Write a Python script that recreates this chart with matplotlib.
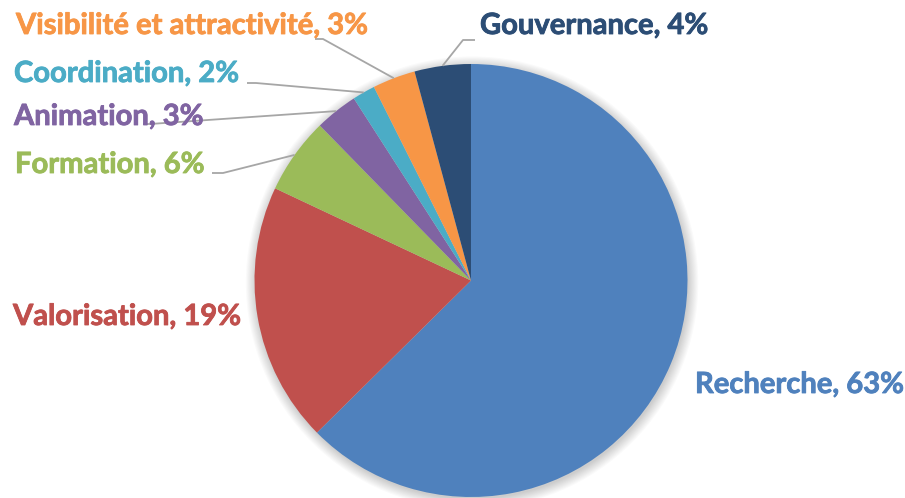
import numpy as np
import matplotlib
matplotlib.use("Agg")
import matplotlib.pyplot as plt
from matplotlib.patches import Circle
import matplotlib.patheffects as pe

# ---- data ----
categories = ["Recherche", "Valorisation", "Formation", "Animation",
              "Coordination", "Visibilité et attractivité", "Gouvernance"]
values = [62.6, 19.4, 5.7, 3.2, 1.7, 3.2, 4.2]
colors = ["#4F81BD", "#C0504D", "#9BBB59", "#8064A2",
          "#4BACC6", "#F79646", "#2C4D75"]

W, H = 905, 498
R_PX = 216.5
CX, CY = 471, 280.5  # pixel center (from top)

fig = plt.figure(figsize=(W / 100, H / 100), dpi=100)
ax = fig.add_axes([0, 0, 1, 1])


def px(x, y):
    return ((x - CX) / R_PX, (CY - y) / R_PX)


# soft shadow
for i in range(10):
    ax.add_patch(Circle((0.005, -0.01), 1 + i * 0.005, color="black",
                        alpha=0.018, lw=0, zorder=0))

wedges, _ = ax.pie(values, colors=colors, startangle=90, counterclock=False,
                   radius=1, center=(0, 0), frame=True,
                   wedgeprops=dict(linewidth=0))
ax.set_xlim(-CX / R_PX, (W - CX) / R_PX)
ax.set_ylim(-(H - CY) / R_PX, CY / R_PX)
ax.set_aspect("equal")
ax.axis("off")

# label layout (pixel positions: left x, baseline y), leader elbow points
layout = {
    "Recherche": ((695, 393), None),
    "Valorisation": ((13, 325), None),
    "Formation": ((15, 173), [(212, 173), (223, 173)]),
    "Animation": ((14, 125), [(143, 124), (150, 124)]),
    "Coordination": ((14, 82), [(247, 83), (256, 83)]),
    "Visibilité et attractivité": ((16, 34), [(315, 39), (323, 39)]),
    "Gouvernance": ((480, 34), [(475, 40), (463, 40)]),
}

fontsize = 21
for w, cat, val, col in zip(wedges, categories, values, colors):
    (lx, ly), elbow = layout[cat]
    tx, ty = px(lx, ly)
    ax.text(tx, ty, f"{cat}, {round(val)}%", color=col, fontsize=fontsize,
            fontweight="bold", family=["Lato", "DejaVu Sans"],
            ha="left", va="baseline", zorder=5,
            path_effects=[pe.Stroke(linewidth=0.6, foreground=col), pe.Normal()])
    if elbow is not None:
        mid = np.deg2rad((w.theta1 + w.theta2) / 2)
        ex, ey = np.cos(mid), np.sin(mid)
        pts = [px(*p) for p in elbow] + [(ex, ey)]
        xs, ys = zip(*pts)
        ax.plot(xs, ys, color="#A6A6A6", lw=1.3, zorder=4,
                solid_capstyle="butt")

fig.savefig("out.png", dpi=100)
